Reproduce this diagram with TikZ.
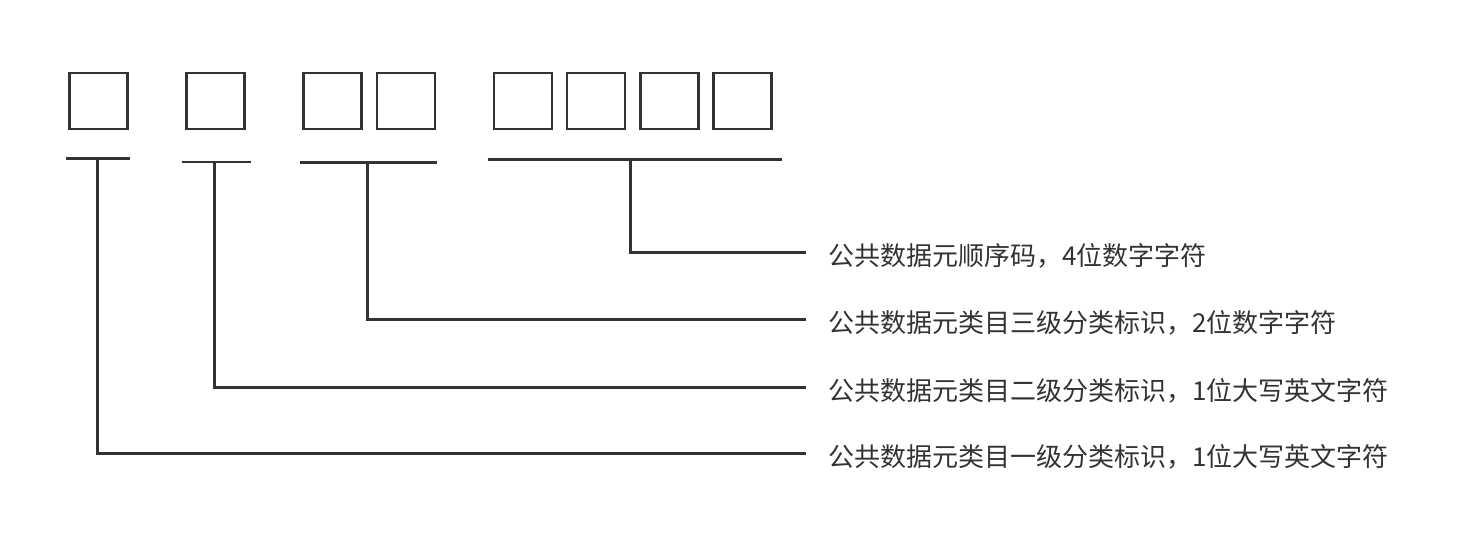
\documentclass[tikz,border=0pt]{standalone}
\usepackage{fontspec}
\newfontfamily\cjk{Noto Sans CJK SC}
\definecolor{ink}{HTML}{333333}
\begin{document}
\begin{tikzpicture}[x=1pt,y=-1pt,
  cell/.style={draw=ink,line width=2.6pt,minimum width=58pt,minimum height=56pt,inner sep=0pt},
  rule/.style={draw=ink,line width=2.6pt},
  conn/.style={draw=ink,line width=2.6pt},
  lbl/.style={anchor=west,inner sep=0pt,text=ink,font=\cjk\fontsize{26pt}{28pt}\selectfont}]
\useasboundingbox (0,0) rectangle (1465,533);
% boxes
\node[cell] (b1) at (98.5,101) {};
\node[cell] (b2) at (215.5,101) {};
\node[cell] (b3) at (332.7,101) {};
\node[cell] (b4) at (406,101) {};
\node[cell] (b5) at (523,101) {};
\node[cell] (b6) at (596,101) {};
\node[cell] (b7) at (669.7,101) {};
\node[cell] (b8) at (742.7,101) {};
% underline ends
\coordinate (l1a) at (66,158.3);   \coordinate (l1b) at (129.7,158.3);
\coordinate (l2a) at (181.7,162);  \coordinate (l2b) at (250.7,162);
\coordinate (l3a) at (300,162.3);  \coordinate (l3b) at (437.3,162.3);
\coordinate (l4a) at (487.7,159.7);\coordinate (l4b) at (781.7,159.7);
\draw[rule] (l1a) -- (l1b);
\draw[rule] (l2a) -- (l2b);
\draw[rule] (l3a) -- (l3b);
\draw[rule] (l4a) -- (l4b);
% junctions
\coordinate (u1) at (97.3,158.3);
\coordinate (u2) at (214.5,162);
\coordinate (u3) at (367.3,162.3);
\coordinate (u4) at (630.3,159.7);
% connector ends
\coordinate (e1) at (806,453.3);
\coordinate (e2) at (806,387.3);
\coordinate (e3) at (806,319.3);
\coordinate (e4) at (806,252.3);
% labels
\node[lbl] (t4) at ([xshift=22pt,yshift=-4pt]e4) {公共数据元顺序码，4位数字字符};
\node[lbl] (t3) at ([xshift=22pt,yshift=-4pt]e3) {公共数据元类目三级分类标识，2位数字字符};
\node[lbl] (t2) at ([xshift=22pt,yshift=-4pt]e2) {公共数据元类目二级分类标识，1位大写英文字符};
\node[lbl] (t1) at ([xshift=22pt,yshift=-4pt]e1) {公共数据元类目一级分类标识，1位大写英文字符};
% connectors
\draw[conn] (u1) |- (e1);
\draw[conn] (u2) |- (e2);
\draw[conn] (u3) |- (e3);
\draw[conn] (u4) |- (e4);
\end{tikzpicture}
\end{document}
